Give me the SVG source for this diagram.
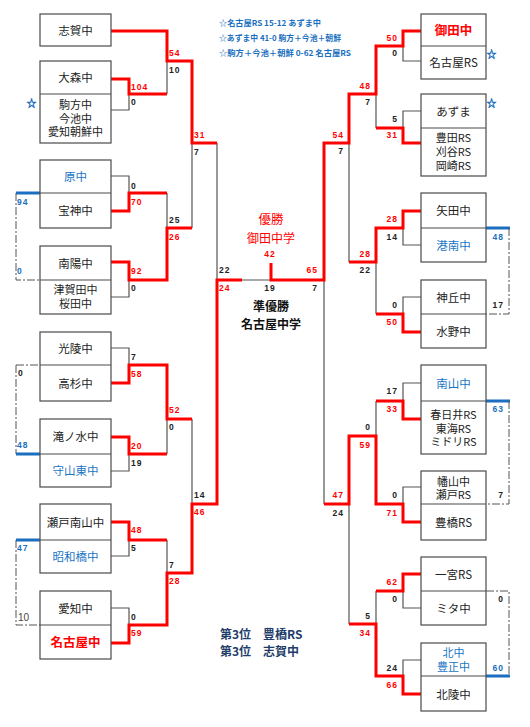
<svg xmlns="http://www.w3.org/2000/svg" width="530" height="727" viewBox="0 0 530 727">
<style>
.bx{fill:#fff;stroke:#4a4a4a;stroke-width:1.2}
.dv{stroke:#4a4a4a;stroke-width:1.2}
.t{font-family:"Noto Sans CJK JP","Noto Sans CJK SC",sans-serif;font-size:11.5px;text-anchor:middle;fill:#222}
.ml{font-size:11px}
.tb{fill:#1a75c5}
.tr{fill:#ff0000;font-weight:bold;font-size:12.5px}
.s{font-family:"Liberation Sans",Arial,sans-serif;font-size:8.5px;font-weight:bold;letter-spacing:1px}
.e{text-anchor:end}
.m{text-anchor:middle}
.r{fill:#ff0000}
.k{fill:#222}
.b{fill:#1a6fc0}
.ln{fill:none;stroke:#555;stroke-width:1.2}
.w{fill:none;stroke:#ff0000;stroke-width:3}
.bl{fill:none;stroke:#1a6fc0;stroke-width:3}
.dd{fill:none;stroke:#555;stroke-width:1;stroke-dasharray:8 2 2 2}
.n{font-family:"Noto Sans CJK JP",sans-serif;font-size:8px;font-weight:bold;fill:#1a6fc0}
.st{font-family:"Noto Sans CJK JP",sans-serif;font-size:10px;font-weight:bold;fill:#1a6fc0;stroke:#1a6fc0;stroke-width:0.4;text-anchor:middle}
.c{font-family:"Noto Sans CJK JP",sans-serif;text-anchor:middle}
.p{font-family:"Noto Sans CJK JP",sans-serif;font-size:12px;font-weight:bold;fill:#1f3d6b}
</style>
<rect width="530" height="727" fill="#fff"/>

<g id="connectors">
<path class="ln" d="M111,110H129V94M167,61V94M111,176H129V193M167,193V228M111,297H129V280M192,143V228M217,143V280M111,348H129V365M167,419V454M111,471H129V454M192,419V504M111,556H129V540M167,540V573M111,608H129V625M242,280H271"/>
<path class="ln" d="M421,61H403V46M376,94V128M421,111H403V128M421,245H403V228M376,262V314M421,297H403V314M349,143V262M324,280V504M421,383H403V401M376,401V436M421,487H403V504M349,504V624M421,608H403V591M376,591V624M421,660H403V676"/>
<path class="w" d="M111,31H167V61H192V143H217"/>
<path class="w" d="M111,79H129V94H167"/>
<path class="w" d="M111,211H129V193H167"/>
<path class="w" d="M111,262H129V280H167V228H192"/>
<path class="w" d="M111,383H129V365H167V419H192"/>
<path class="w" d="M111,437H129V454H167"/>
<path class="w" d="M111,522H129V540H167"/>
<path class="w" d="M111,643H129V625H167V573H192V504H217V280H242"/>
<path class="w" d="M421,31H403V46H376V94H349V143H324V280H271V263"/>
<path class="w" d="M421,143H403V128H376"/>
<path class="w" d="M421,211H403V228H376V262H349"/>
<path class="w" d="M421,332H403V314H376"/>
<path class="w" d="M421,419H403V401H376"/>
<path class="w" d="M421,522H403V504H376V436H349V504H324"/>
<path class="w" d="M421,574H403V591H376"/>
<path class="w" d="M421,694H403V676H376V624H349"/>
<path class="bl" d="M16,193H40M16,454H40M16,540H40M486,228H510M486,401H510M486,676H510"/>
<path class="dd" d="M16,193V280H40M16,365H40M16,365V454M16,540V625H40M509,228V314H486M509,401V504H486M486,591H509V676"/>
</g>

<g id="scores">
<text class="s r" x="131" y="90">104</text>
<text class="s k" x="131" y="105">0</text>
<text class="s r" x="169" y="56">54</text>
<text class="s k" x="169" y="73">10</text>
<text class="s r" x="194" y="138">31</text>
<text class="s k" x="194" y="155">7</text>
<text class="s k" x="131" y="189">0</text>
<text class="s r" x="131" y="205">70</text>
<text class="s k" x="169" y="223">25</text>
<text class="s r" x="169" y="240">26</text>
<text class="s r" x="131" y="274">92</text>
<text class="s k" x="131" y="291">0</text>
<text class="s k" x="131" y="360">7</text>
<text class="s r" x="131" y="377">58</text>
<text class="s r" x="169" y="413">52</text>
<text class="s k" x="169" y="430">0</text>
<text class="s r" x="131" y="449">20</text>
<text class="s k" x="131" y="466">19</text>
<text class="s k" x="194" y="498">14</text>
<text class="s r" x="194" y="515">46</text>
<text class="s r" x="131" y="533">48</text>
<text class="s k" x="131" y="551">5</text>
<text class="s k" x="169" y="568">7</text>
<text class="s r" x="169" y="584">28</text>
<text class="s k" x="131" y="620">0</text>
<text class="s r" x="131" y="636">59</text>
<text class="s k" x="219" y="273">22</text>
<text class="s r" x="219" y="291">24</text>
<text class="s r m" x="270" y="257">42</text>
<text class="s k m" x="270" y="291">19</text>
<text class="s r e" x="318" y="273">65</text>
<text class="s k e" x="318" y="291">7</text>
<text class="s r e" x="398" y="41">50</text>
<text class="s k e" x="398" y="56">0</text>
<text class="s r e" x="371" y="89">48</text>
<text class="s k e" x="371" y="105">7</text>
<text class="s k e" x="398" y="122">5</text>
<text class="s r e" x="398" y="138">31</text>
<text class="s r e" x="344" y="138">54</text>
<text class="s k e" x="344" y="154">7</text>
<text class="s r e" x="398" y="222">28</text>
<text class="s k e" x="398" y="240">14</text>
<text class="s r e" x="371" y="257">28</text>
<text class="s k e" x="371" y="273">22</text>
<text class="s k e" x="398" y="308">0</text>
<text class="s r e" x="398" y="325">50</text>
<text class="s k e" x="398" y="394">17</text>
<text class="s r e" x="398" y="412">33</text>
<text class="s k e" x="371" y="430">0</text>
<text class="s r e" x="371" y="448">59</text>
<text class="s r e" x="344" y="498">47</text>
<text class="s k e" x="398" y="498">0</text>
<text class="s k e" x="344" y="516">24</text>
<text class="s r e" x="398" y="516">71</text>
<text class="s r e" x="398" y="585">62</text>
<text class="s k e" x="398" y="602">0</text>
<text class="s k e" x="371" y="619">5</text>
<text class="s r e" x="371" y="636">34</text>
<text class="s k e" x="398" y="671">24</text>
<text class="s r e" x="398" y="688">66</text>
<text class="s b" x="17" y="205">94</text>
<text class="s b" x="17" y="274">0</text>
<text class="s k" x="18" y="376">0</text>
<text class="s b" x="17" y="448">48</text>
<text class="s b" x="17" y="551">47</text>
<text x="18" y="621" font-family="Liberation Sans,Arial,sans-serif" font-size="10" fill="#444">10</text>
<text class="s b e" x="504" y="240">48</text>
<text class="s k e" x="504" y="308">17</text>
<text class="s b e" x="504" y="412">63</text>
<text class="s k e" x="504" y="498">7</text>
<text class="s k e" x="504" y="602">0</text>
<text class="s b e" x="504" y="671">60</text>
</g>

<g id="L1"><rect class="bx" x="40" y="14" width="71" height="32"/><text class="t" x="75.5" y="34.5">志賀中</text></g>
<g id="L2"><rect class="bx" x="40" y="61" width="71" height="82"/><line class="dv" x1="40" y1="94" x2="111" y2="94"/><text class="t" x="75.5" y="82">大森中</text><text class="t ml" x="75.5" y="109">駒方中</text><text class="t ml" x="75.5" y="122.5">今池中</text><text class="t ml" x="75.5" y="136">愛知朝鮮中</text></g>
<g id="L3"><rect class="bx" x="40" y="160" width="71" height="68"/><line class="dv" x1="40" y1="193" x2="111" y2="193"/><text class="t tb" x="75.5" y="181">原中</text><text class="t" x="75.5" y="215">宝神中</text></g>
<g id="L4"><rect class="bx" x="40" y="246" width="71" height="68"/><line class="dv" x1="40" y1="280" x2="111" y2="280"/><text class="t" x="75.5" y="267.5">南陽中</text><text class="t ml" x="75.5" y="294">津賀田中</text><text class="t ml" x="75.5" y="308">桜田中</text></g>
<g id="L5"><rect class="bx" x="40" y="332" width="71" height="69"/><line class="dv" x1="40" y1="365" x2="111" y2="365"/><text class="t" x="75.5" y="353">光陵中</text><text class="t" x="75.5" y="387.5">高杉中</text></g>
<g id="L6"><rect class="bx" x="40" y="419" width="71" height="68"/><line class="dv" x1="40" y1="454" x2="111" y2="454"/><text class="t" x="75.5" y="441">滝ノ水中</text><text class="t tb" x="75.5" y="475">守山東中</text></g>
<g id="L7"><rect class="bx" x="40" y="504" width="71" height="69"/><line class="dv" x1="40" y1="540" x2="111" y2="540"/><text class="t" x="75.5" y="526.5">瀬戸南山中</text><text class="t tb" x="75.5" y="561">昭和橋中</text></g>
<g id="L8"><rect class="bx" x="40" y="591" width="71" height="68"/><line class="dv" x1="40" y1="625" x2="111" y2="625"/><text class="t" x="75.5" y="612.5">愛知中</text><text class="t tr" x="75.5" y="647">名古屋中</text></g>

<g id="R1"><rect class="bx" x="421" y="14" width="65" height="65"/><line class="dv" x1="421" y1="46" x2="486" y2="46"/><text class="t tr" x="453.5" y="35">御田中</text><text class="t" x="453.5" y="67">名古屋RS</text></g>
<g id="R2"><rect class="bx" x="421" y="94" width="65" height="82"/><line class="dv" x1="421" y1="128" x2="486" y2="128"/><text class="t" x="453.5" y="115.5">あずま</text><text class="t ml" x="453.5" y="142">豊田RS</text><text class="t ml" x="453.5" y="156">刈谷RS</text><text class="t ml" x="453.5" y="170">岡崎RS</text></g>
<g id="R3"><rect class="bx" x="421" y="193" width="65" height="69"/><line class="dv" x1="421" y1="228" x2="486" y2="228"/><text class="t" x="453.5" y="215">矢田中</text><text class="t tb" x="453.5" y="249.5">港南中</text></g>
<g id="R4"><rect class="bx" x="421" y="280" width="65" height="68"/><line class="dv" x1="421" y1="314" x2="486" y2="314"/><text class="t" x="453.5" y="301.5">神丘中</text><text class="t" x="453.5" y="335.5">水野中</text></g>
<g id="R5"><rect class="bx" x="421" y="365" width="65" height="89"/><line class="dv" x1="421" y1="401" x2="486" y2="401"/><text class="t tb" x="453.5" y="387.5">南山中</text><text class="t ml" x="453.5" y="419">春日井RS</text><text class="t ml" x="453.5" y="432.5">東海RS</text><text class="t ml" x="453.5" y="446">ミドリRS</text></g>
<g id="R6"><rect class="bx" x="421" y="471" width="65" height="69"/><line class="dv" x1="421" y1="504" x2="486" y2="504"/><text class="t ml" x="453.5" y="485.5">幡山中</text><text class="t ml" x="453.5" y="498.5">瀬戸RS</text><text class="t" x="453.5" y="526.5">豊橋RS</text></g>
<g id="R7"><rect class="bx" x="421" y="557" width="65" height="68"/><line class="dv" x1="421" y1="591" x2="486" y2="591"/><text class="t" x="453.5" y="578.5">一宮RS</text><text class="t" x="453.5" y="612.5">ミタ中</text></g>
<g id="R8"><rect class="bx" x="421" y="643" width="65" height="68"/><line class="dv" x1="421" y1="676" x2="486" y2="676"/><text class="t tb ml" x="453.5" y="657">北中</text><text class="t tb ml" x="453.5" y="670.5">豊正中</text><text class="t" x="453.5" y="698.5">北陵中</text></g>

<g id="stars">
<text class="st" x="31.5" y="107">☆</text>
<text class="st" x="491.5" y="58">☆</text>
<text class="st" x="491.5" y="107">☆</text>
</g>

<g id="notes">
<text class="n" x="219" y="26" textLength="102" lengthAdjust="spacingAndGlyphs">☆名古屋RS 15-12 あずま中</text>
<text class="n" x="219" y="41" textLength="122" lengthAdjust="spacingAndGlyphs">☆あずま中 41-0 駒方＋今池＋朝鮮</text>
<text class="n" x="219" y="56" textLength="132" lengthAdjust="spacingAndGlyphs">☆駒方＋今池＋朝鮮 0-62 名古屋RS</text>
</g>

<g id="result">
<text class="c" x="271" y="224" font-size="12.5" fill="#ff0000">優勝</text>
<text class="c" x="271" y="243" font-size="12" fill="#ff0000">御田中学</text>
<text class="c" x="271" y="311" font-size="12" font-weight="bold" fill="#111">準優勝</text>
<text class="c" x="271" y="329" font-size="12" font-weight="bold" fill="#111">名古屋中学</text>
</g>

<g id="third">
<text class="p" x="220" y="639">第3位</text><text class="p" x="263" y="639">豊橋RS</text>
<text class="p" x="220" y="656">第3位</text><text class="p" x="263" y="656">志賀中</text>
</g>
</svg>
